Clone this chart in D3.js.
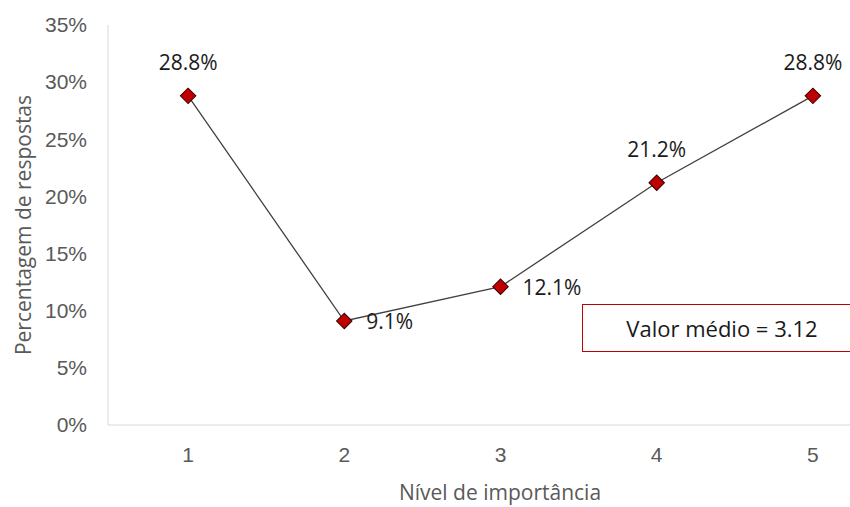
<html>
<style>
    body { margin: 0; background: #fff; }
    svg { font-family: 'Open Sans', 'Noto Sans', sans-serif; }
    .axis .domain { stroke: #d9d9d9; }
    .axis .tick line { display: none; }
    .axis .tick text { fill: #595959; font-size: 21px; }
</style>
<body>
<svg width="850" height="507"></svg>
<script src="https://cdn.jsdelivr.net/npm/d3@7"></script>
<script>
    const levels = ["1", "2", "3", "4", "5"]
    const shares = [0.288, 0.091, 0.121, 0.212, 0.288]
    const yTicks = [0, 0.05, 0.10, 0.15, 0.20, 0.25, 0.30, 0.35]
    const labelSide = ["top", "right", "right", "top", "top"]
    const meanText = "Valor médio = 3.12"

    let svg = d3.select("svg")
    let margin = {top: 25, right: -41, bottom: 82, left: 108}
    let width = 850, height = 507

    let x = d3.scaleBand()
        .domain(levels)
        .range([margin.left + 2, width - margin.right])

    let y = d3.scaleLinear()
        .domain([0, 0.35])
        .range([height - margin.bottom, margin.top])

    svg.append("g")
        .attr("class", "axis")
        .attr("transform", `translate(${margin.left},0)`)
        .call(d3.axisLeft(y).tickValues(yTicks).tickFormat(d3.format(".0%")).tickSize(0).tickPadding(21))
        .select(".domain").attr("d", `M0,${y(0.35)}V${y(0)}`)

    svg.append("g")
        .attr("class", "axis")
        .attr("transform", `translate(0,${y(0)})`)
        .call(d3.axisBottom(x).tickSize(0).tickPadding(22))
        .select(".domain").attr("d", `M${margin.left},0H${width}`)

    let pts = levels.map((l, i) => ({l, v: shares[i], side: labelSide[i]}))
    let cx = d => x(d.l) + x.bandwidth() / 2

    svg.append("path")
        .datum(pts)
        .attr("fill", "none")
        .attr("stroke", "#404040")
        .attr("stroke-width", 1.3)
        .attr("d", d3.line().x(cx).y(d => y(d.v)))

    svg.selectAll(".pt")
        .data(pts)
        .join("path")
        .attr("class", "pt")
        .attr("d", d3.symbol(d3.symbolSquare, 120))
        .attr("transform", d => `translate(${cx(d)},${y(d.v)}) rotate(45)`)
        .attr("fill", "#c00000")
        .attr("stroke", "#3a0000")
        .attr("stroke-width", 1)

    svg.selectAll(".lbl")
        .data(pts)
        .join("text")
        .attr("class", "lbl")
        .attr("x", d => d.side == "top" ? cx(d) : cx(d) + 22)
        .attr("y", d => d.side == "top" ? y(d.v) - 26 : y(d.v) + 8)
        .attr("text-anchor", d => d.side == "top" ? "middle" : "start")
        .style("font-size", "21px")
        .style("fill", "#1a1a1a")
        .text(d => d3.format(".1%")(d.v))

    svg.append("rect")
        .attr("x", 582.5)
        .attr("y", 304.5)
        .attr("width", 300)
        .attr("height", 47)
        .attr("fill", "white")
        .attr("stroke", "#c00000")
        .attr("stroke-width", 1)

    svg.append("text")
        .attr("x", 722)
        .attr("y", 337)
        .attr("text-anchor", "middle")
        .style("font-size", "22px")
        .style("fill", "#1a1a1a")
        .text(meanText)

    svg.append("text")
        .attr("transform", `translate(31,${(y(0) + y(0.35)) / 2}) rotate(-90)`)
        .attr("text-anchor", "middle")
        .style("font-size", "21px")
        .style("fill", "#595959")
        .text("Percentagem de respostas")

    svg.append("text")
        .attr("x", 500)
        .attr("y", 500)
        .attr("text-anchor", "middle")
        .style("font-size", "21px")
        .style("fill", "#595959")
        .text("Nível de importância")
</script>
</body>
</html>
